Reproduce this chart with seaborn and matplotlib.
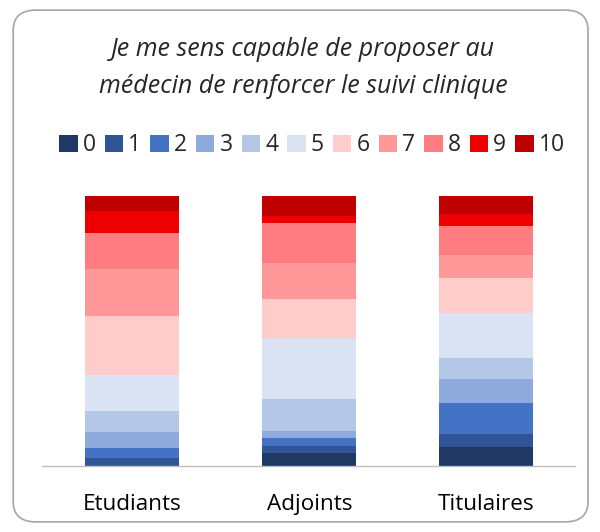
import numpy as np
import pandas as pd
import seaborn as sns
import matplotlib.pyplot as plt
from matplotlib.patches import Patch, FancyBboxPatch

sns.set_theme(style="white")
plt.rcParams['font.family'] = ['Open Sans', 'DejaVu Sans']

groups = ['Etudiants', 'Adjoints', 'Titulaires']
levels = ['0', '1', '2', '3', '4', '5', '6', '7', '8', '9', '10']

# parts en % par niveau (0 a 10)
etudiants = [0.0, 3.1, 3.4, 6.0, 8.0, 13.1, 21.8, 17.6, 13.2, 8.0, 5.8]
adjoints = [4.9, 2.6, 2.8, 2.5, 11.9, 22.5, 14.7, 13.4, 14.5, 2.8, 7.3]
titulaires = [7.1, 4.6, 11.5, 8.9, 7.8, 16.6, 13.2, 8.3, 10.8, 4.3, 7.0]

colors = ['#1F3864', '#2F5597', '#4472C4', '#8FAADC', '#B4C7E7', '#DAE3F3',
          '#FFCCCC', '#FF9999', '#FF7C80', '#EE0000', '#C00000']

df = pd.DataFrame({'Etudiants': etudiants, 'Adjoints': adjoints,
                   'Titulaires': titulaires}, index=levels)

fig = plt.figure(figsize=(6, 5.32), dpi=100)
ax = fig.add_axes([0.07, 0.124, 0.888, 0.508])

bottom = np.zeros(len(groups))
for lvl, c in zip(levels, colors):
    vals = df.loc[lvl, groups].values
    sns.barplot(x=groups, y=vals, bottom=bottom, color=c, width=0.53,
                errorbar=None, linewidth=0, saturation=1, ax=ax)
    bottom = bottom + vals

ax.set_ylim(0, 100)
ax.set_xlim(-0.51, 2.5)
ax.set_yticks([])
ax.set_ylabel('')
for s in ['top', 'right', 'left']:
    ax.spines[s].set_visible(False)
ax.spines['bottom'].set_color('#BFBFBF')
ax.spines['bottom'].set_linewidth(1)
ax.tick_params(axis='x', labelsize=16.2, colors='black', pad=20, length=0)

fig.text(0.505, 0.872, 'Je me sens capable de proposer au\nmédecin de renforcer le suivi clinique',
         ha='center', va='center', fontsize=18, style='italic', linespacing=1.62)

handles = [Patch(facecolor=c, edgecolor='none') for c in colors]
fig.legend(handles, levels, loc='center', bbox_to_anchor=(0.52, 0.727), ncol=11,
           frameon=False, fontsize=16.5, handlelength=0.8, handleheight=0.8,
           handletextpad=0.22, columnspacing=0.4, borderaxespad=0)

border = FancyBboxPatch((0.022, 0.019), 0.958, 0.962, boxstyle='round,pad=0,rounding_size=0.038',
                        transform=fig.transFigure, facecolor='none', edgecolor='#A6A6A6',
                        linewidth=1.2)
fig.patches.append(border)

fig.savefig('out.png', dpi=100)
